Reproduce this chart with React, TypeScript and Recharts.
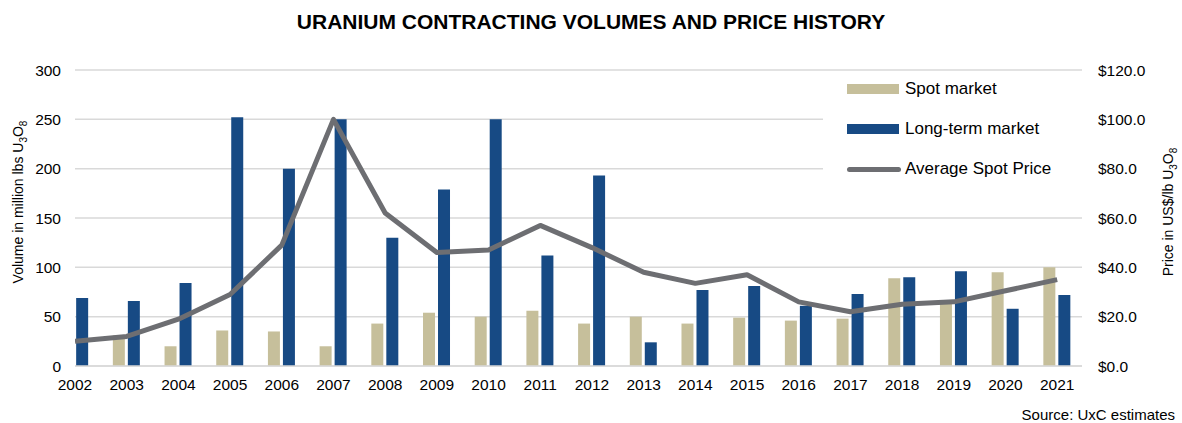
import React from 'react';
import {
  ComposedChart,
  Bar,
  Line,
  XAxis,
  YAxis,
  CartesianGrid,
} from 'recharts';

const years = [2002, 2003, 2004, 2005, 2006, 2007, 2008, 2009, 2010, 2011, 2012, 2013, 2014, 2015, 2016, 2017, 2018, 2019, 2020, 2021];
const spotVolumes = [0, 31, 20, 36, 35, 20, 43, 54, 50, 56, 43, 50, 43, 49, 46, 48, 89, 65, 95, 100];
const longTermVolumes = [69, 66, 84, 252, 200, 250, 130, 179, 250, 112, 193, 24, 77, 81, 61, 73, 90, 96, 58, 72];
const spotPrices = [10, 12, 19, 29, 49, 100, 62, 46, 47, 57, 48, 38, 33.5, 37, 26, 22, 25, 26, 30.5, 35];

const volumeTicks = [0, 50, 100, 150, 200, 250, 300];
const priceTicks = [0, 20, 40, 60, 80, 100, 120];

const SPOT_COLOR = '#C6BF9B';
const LONG_COLOR = '#174A84';
const PRICE_COLOR = '#6D6E72';
const GRID_COLOR = '#D9D9D9';
const FONT = '"Liberation Sans", Arial, sans-serif';

const legendItems = [
  { name: 'Spot market', color: SPOT_COLOR, kind: 'bar' },
  { name: 'Long-term market', color: LONG_COLOR, kind: 'bar' },
  { name: 'Average Spot Price', color: PRICE_COLOR, kind: 'line' },
];

const data = years.map((year, i) => ({
  year,
  spot: spotVolumes[i],
  longTerm: longTermVolumes[i],
  price: spotPrices[i],
}));

// titre vertical avec indices U3O8 (posX/posY pour que recharts ne les écrase pas)
const AxisTitle = ({ posX, posY, text }: { posX: number; posY: number; text: string }) => (
  <text
    x={posX}
    y={posY}
    transform={`rotate(-90 ${posX} ${posY})`}
    textAnchor="middle"
    fontSize={14}
    fill="#000"
    fontFamily={FONT}
  >
    {text}U
    <tspan dy={4} fontSize={10}>3</tspan>
    <tspan dy={-4}>O</tspan>
    <tspan dy={4} fontSize={10}>8</tspan>
  </text>
);

const ChartLegend = () => (
  <div
    style={{
      position: 'absolute',
      left: 823,
      top: 72,
      width: 259,
      height: 118,
      background: '#fff',
    }}
  >
    {legendItems.map((item, i) => (
      <div
        key={item.name}
        style={{
          position: 'absolute',
          left: 24,
          top: 4 + i * 40,
          height: 26,
          display: 'flex',
          alignItems: 'center',
          fontSize: 17,
          color: '#000',
          whiteSpace: 'nowrap',
        }}
      >
        {item.kind === 'line' ? (
          <span style={{ display: 'inline-block', width: 54, height: 5, borderRadius: 3, background: item.color, marginRight: 4 }} />
        ) : (
          <span style={{ display: 'inline-block', width: 52, height: 10, background: item.color, marginRight: 6 }} />
        )}
        {item.name}
      </div>
    ))}
  </div>
);

export default function App() {
  return (
    <div style={{ position: 'absolute', left: 0, top: 0, width: 1182, height: 423, background: '#fff', fontFamily: FONT }}>
      <div
        style={{
          position: 'absolute',
          top: 11,
          left: 0,
          width: 1182,
          textAlign: 'center',
          fontSize: 21,
          lineHeight: '21px',
          fontWeight: 'bold',
          color: '#000',
        }}
      >
        URANIUM CONTRACTING VOLUMES AND PRICE HISTORY
      </div>
      <ComposedChart
        width={1182}
        height={423}
        data={data}
        margin={{ top: 70, right: 40, bottom: 27, left: 30 }}
        barGap={3}
      >
        <CartesianGrid yAxisId="left" vertical={false} stroke={GRID_COLOR} strokeWidth={1.5} />
        <XAxis
          dataKey="year"
          type="number"
          domain={[2002, 2021.48]}
          allowDataOverflow
          ticks={years}
          interval={0}
          height={30}
          tickLine={false}
          tickSize={0}
          tickMargin={13}
          axisLine={{ stroke: GRID_COLOR, strokeWidth: 1.5 }}
          tick={{ fill: '#000', fontSize: 15.5, fontFamily: FONT }}
        />
        <YAxis
          yAxisId="left"
          width={45}
          domain={[0, 300]}
          ticks={volumeTicks}
          axisLine={false}
          tickLine={false}
          tickSize={0}
          tickMargin={14}
          tick={{ fill: '#000', fontSize: 15.5, fontFamily: FONT }}
          label={<AxisTitle posX={23} posY={202} text="Volume in million lbs " />}
        />
        <YAxis
          yAxisId="right"
          orientation="right"
          width={60}
          domain={[0, 120]}
          ticks={priceTicks}
          axisLine={false}
          tickLine={false}
          tickSize={0}
          tickMargin={16}
          tickFormatter={(v: number) => `$${v.toFixed(1)}`}
          tick={{ fill: '#000', fontSize: 15.5, fontFamily: FONT }}
          label={<AxisTitle posX={1173} posY={212} text="Price in US$/lb " />}
        />
        <Bar yAxisId="left" dataKey="spot" name="Spot market" fill={SPOT_COLOR} barSize={12} isAnimationActive={false} />
        <Bar yAxisId="left" dataKey="longTerm" name="Long-term market" fill={LONG_COLOR} barSize={12} isAnimationActive={false} />
        <Line
          yAxisId="right"
          dataKey="price"
          name="Average Spot Price"
          type="linear"
          stroke={PRICE_COLOR}
          strokeWidth={5}
          strokeLinejoin="round"
          dot={false}
          activeDot={false}
          isAnimationActive={false}
        />
      </ComposedChart>
      <ChartLegend />
      <div
        style={{
          position: 'absolute',
          right: 7,
          top: 407,
          fontSize: 15,
          lineHeight: '15px',
          color: '#000',
        }}
      >
        Source: UxC estimates
      </div>
    </div>
  );
}
